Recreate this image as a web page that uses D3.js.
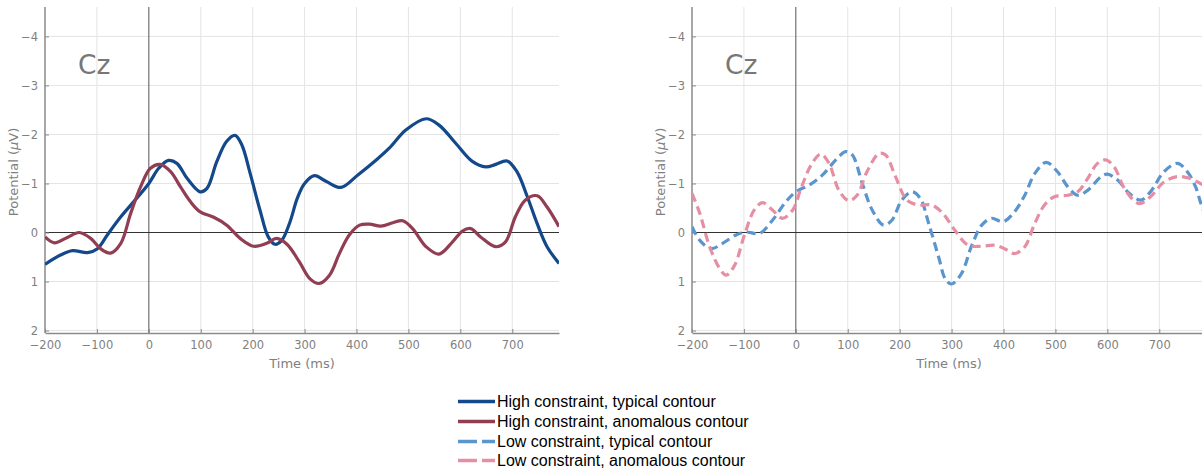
<!DOCTYPE html>
<html>
<head>
<meta charset="utf-8">
<script src="https://cdn.jsdelivr.net/npm/d3@7"></script>
<style>
  html, body { margin: 0; padding: 0; background: #ffffff; }
  svg { display: block; }
</style>
</head>
<body>
<svg id="chart" width="1202" height="474"></svg>
<script>
// ---------------- DATA ----------------
const xTicks = [-200, -100, 0, 100, 200, 300, 400, 500, 600, 700];
const yTicks = [-4, -3, -2, -1, 0, 1, 2];
const xDomain = [-200, 790];
const yDomain = [-4.6, 2.05];
const panelLabel = "Cz";
const xLabel = "Time (ms)";

// [time (ms), potential (µV)] ; negative plotted upward
const highTypical = [[-200,0.65],[-185,0.55],[-170,0.46],[-147,0.37],[-118,0.41],[-99,0.33],[-80,0.05],[-54,-0.32],[-29,-0.63],[0,-1.0],[19,-1.31],[38,-1.47],[54,-1.41],[74,-1.1],[99,-0.83],[112,-0.9],[131,-1.45],[150,-1.86],[166,-1.98],[179,-1.79],[195,-1.21],[214,-0.46],[230,0.09],[243,0.24],[256,0.16],[272,-0.22],[286,-0.7],[300,-1.0],[319,-1.16],[342,-1.04],[370,-0.92],[402,-1.17],[438,-1.48],[463,-1.72],[495,-2.09],[534,-2.32],[559,-2.19],[591,-1.82],[623,-1.45],[649,-1.34],[668,-1.39],[690,-1.46],[709,-1.24],[729,-0.73],[748,-0.18],[767,0.29],[790,0.63]];
const highAnomalous = [[-200,0.09],[-182,0.21],[-157,0.1],[-134,0.0],[-112,0.12],[-93,0.33],[-74,0.42],[-54,0.22],[-35,-0.39],[-16,-0.93],[3,-1.31],[22,-1.39],[42,-1.24],[61,-0.93],[80,-0.63],[99,-0.42],[125,-0.31],[150,-0.15],[176,0.12],[202,0.28],[227,0.22],[246,0.12],[266,0.24],[290,0.6],[310,0.94],[328,1.04],[348,0.87],[367,0.43],[386,0.05],[406,-0.15],[425,-0.17],[447,-0.13],[470,-0.2],[489,-0.24],[508,-0.08],[534,0.29],[559,0.44],[585,0.19],[604,-0.03],[620,-0.08],[639,0.09],[668,0.29],[687,0.19],[706,-0.32],[725,-0.66],[748,-0.75],[767,-0.52],[790,-0.12]];
const lowTypical = [[-200,-0.12],[-185,0.16],[-163,0.33],[-141,0.22],[-115,0.05],[-96,-0.01],[-70,0.02],[-45,-0.25],[-19,-0.63],[0,-0.83],[26,-0.97],[51,-1.17],[77,-1.48],[96,-1.65],[109,-1.58],[128,-1.0],[147,-0.46],[169,-0.15],[185,-0.25],[204,-0.66],[224,-0.83],[240,-0.69],[256,-0.18],[275,0.5],[288,0.95],[300,1.05],[319,0.84],[338,0.29],[358,-0.15],[377,-0.29],[399,-0.22],[421,-0.42],[441,-0.76],[460,-1.2],[482,-1.43],[504,-1.24],[524,-0.93],[543,-0.76],[562,-0.86],[588,-1.14],[600,-1.19],[620,-1.07],[642,-0.8],[664,-0.66],[683,-0.83],[709,-1.24],[735,-1.41],[754,-1.24],[770,-0.93],[779,-0.63],[790,-0.3]];
const lowAnomalous = [[-200,-0.8],[-185,-0.39],[-166,0.29],[-147,0.73],[-134,0.87],[-118,0.67],[-99,0.05],[-80,-0.46],[-64,-0.61],[-45,-0.46],[-26,-0.29],[-6,-0.46],[10,-0.9],[29,-1.37],[48,-1.6],[64,-1.41],[83,-0.86],[102,-0.65],[118,-0.76],[137,-1.24],[160,-1.61],[173,-1.58],[192,-1.14],[214,-0.66],[236,-0.56],[262,-0.56],[284,-0.38],[306,-0.05],[332,0.26],[358,0.28],[383,0.26],[402,0.33],[421,0.43],[441,0.29],[460,-0.18],[479,-0.56],[498,-0.73],[524,-0.76],[543,-0.83],[562,-1.1],[581,-1.41],[597,-1.48],[613,-1.34],[635,-0.86],[661,-0.59],[683,-0.73],[709,-1.03],[735,-1.14],[760,-1.1],[779,-1.0],[790,-0.95]];

const seriesNames = ["High constraint, typical contour", "High constraint, anomalous contour",
                     "Low constraint, typical contour", "Low constraint, anomalous contour"];
const seriesData = [highTypical, highAnomalous, lowTypical, lowAnomalous];
const seriesColors = ["#13498a", "#913d52", "#5b95cd", "#e68fa4"];
const seriesDashed = [false, false, true, true];

// ---------------- LAYOUT ----------------
const svg = d3.select("#chart");
const plotTop = 7, plotBottom = 333, plotWidth = 514;
const panels = [
  { left: 45,  series: [0, 1] },
  { left: 692, series: [2, 3] }
];
const tickFont = "'DejaVu Sans', sans-serif";
const textGray = "#7f7f7f";

// negative up: -4 at the top
const y = d3.scaleLinear().domain([yDomain[1], yDomain[0]]).range([plotBottom, plotTop]);

panels.forEach((p, pi) => {
  const x = d3.scaleLinear().domain(xDomain).range([p.left, p.left + plotWidth]);
  const g = svg.append("g");
  const right = p.left + plotWidth;

  // grid
  g.append("g").selectAll("line").data(xTicks.filter(t => t !== 0 && t !== -200)).join("line")
    .attr("x1", d => x(d)).attr("x2", d => x(d))
    .attr("y1", plotTop).attr("y2", plotBottom)
    .attr("stroke", "#e4e4e4").attr("stroke-width", 1);
  g.append("g").selectAll("line").data(yTicks.filter(t => t !== 0)).join("line")
    .attr("x1", p.left).attr("x2", right)
    .attr("y1", d => y(d)).attr("y2", d => y(d))
    .attr("stroke", "#e4e4e4").attr("stroke-width", 1);

  // zero lines
  g.append("line").attr("x1", x(0)).attr("x2", x(0)).attr("y1", plotTop).attr("y2", plotBottom)
    .attr("stroke", "#555").attr("stroke-width", 1);
  g.append("line").attr("x1", p.left).attr("x2", right).attr("y1", y(0)).attr("y2", y(0))
    .attr("stroke", "#333").attr("stroke-width", 1);

  // axes (ticks inward)
  const fmt = d => d < 0 ? "\u2212" + Math.abs(d) : String(d);
  const xAxis = d3.axisBottom(x).tickValues(xTicks).tickSizeInner(-4).tickSizeOuter(0)
    .tickPadding(8).tickFormat(fmt);
  const xg = g.append("g").attr("transform", `translate(0,${plotBottom})`).call(xAxis);
  const yAxis = d3.axisLeft(y).tickValues(yTicks).tickSizeInner(-4).tickSizeOuter(0)
    .tickPadding(8).tickFormat(fmt);
  const yg = g.append("g").attr("transform", `translate(${p.left},0)`).call(yAxis);
  [xg, yg].forEach(a => {
    a.select(".domain").attr("stroke", "#8a8a8a").attr("stroke-width", 1.5);
    a.selectAll(".tick line").attr("stroke", "#8a8a8a").attr("stroke-width", 1);
    a.selectAll(".tick text").attr("fill", textGray).style("font-family", tickFont).style("font-size", "11.5px");
  });
  yg.selectAll(".tick text").attr("x", -7);
  yg.select(".domain").attr("d", `M0,${plotTop}V${plotBottom}`);

  // clip
  const clipId = "clip" + pi;
  svg.append("clipPath").attr("id", clipId).append("rect")
    .attr("x", p.left).attr("y", plotTop).attr("width", plotWidth).attr("height", plotBottom - plotTop);

  const line = d3.line().x(d => x(d[0])).y(d => y(d[1])).curve(d3.curveCatmullRom.alpha(0.5));
  p.series.forEach(si => {
    g.append("path").datum(seriesData[si])
      .attr("clip-path", `url(#${clipId})`)
      .attr("d", line)
      .attr("fill", "none")
      .attr("stroke", seriesColors[si])
      .attr("stroke-width", 3.2)
      .attr("stroke-linejoin", "round")
      .attr("stroke-dasharray", seriesDashed[si] ? "9,5" : null);
  });

  // panel label
  g.append("text").attr("x", p.left + 33).attr("y", 74)
    .attr("fill", "#777").style("font-family", tickFont).style("font-size", "26.5px").text(panelLabel);

  // axis titles
  g.append("text").attr("x", (p.left + right) / 2).attr("y", 368).attr("text-anchor", "middle")
    .attr("fill", textGray).style("font-family", tickFont).style("font-size", "13px").text(xLabel);
  const yl = g.append("text").attr("transform", `translate(${p.left - 27},172) rotate(-90)`)
    .attr("text-anchor", "middle").attr("fill", textGray)
    .style("font-family", tickFont).style("font-size", "13px");
  yl.append("tspan").text("Potential (");
  yl.append("tspan").style("font-style", "italic").text("\u03bc");
  yl.append("tspan").text("V)");
});

// ---------------- LEGEND ----------------
const legend = svg.append("g");
const legendRows = [401.5, 421.5, 441.5, 460.5];
seriesNames.forEach((name, i) => {
  legend.append("line").attr("x1", 458).attr("x2", 495).attr("y1", legendRows[i]).attr("y2", legendRows[i])
    .attr("stroke", seriesColors[i]).attr("stroke-width", 3.5)
    .attr("stroke-dasharray", seriesDashed[i] ? "19,5" : null);
  legend.append("text").attr("x", 497).attr("y", legendRows[i] + 5.5)
    .attr("fill", "#000").style("font-family", "'Liberation Sans', Arial, sans-serif").style("font-size", "16px")
    .text(name);
});
</script>
</body>
</html>
